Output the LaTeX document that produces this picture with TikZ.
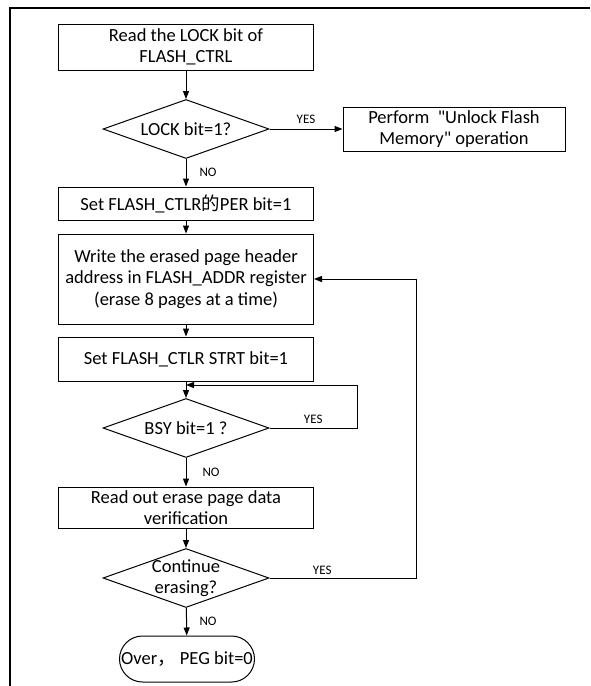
\documentclass[tikz,border=0pt]{standalone}
\usepackage{fontspec}
\setmainfont{Carlito}[Ligatures=TeXOff]
\newfontfamily\cjk{Noto Sans CJK SC}
\usetikzlibrary{shapes.geometric,arrows.meta}

\begin{document}
\begin{tikzpicture}[x=1pt,y=-1pt,
    font=\fontsize{18.5}{21.5}\selectfont,
    every node/.style={inner sep=0pt, align=center},
    proc/.style={draw, line width=1pt, minimum width=255pt},
    decision/.style={draw, diamond, aspect=2.8, line width=1pt, minimum width=166pt, minimum height=59pt},
    tag/.style={font=\fontsize{13}{15}\selectfont},
    arrow/.style={-{Triangle[length=8pt,width=6pt]}, line width=1pt}]
    \useasboundingbox (0,0) rectangle (590,686);

    % Frame
    \draw[line width=1.2pt] (10,686) -- (10,8) -- (590,8);

    % Steps
    \node[proc, minimum height=46pt] (read) at (186,47) {Read the LOCK bit of\\FLASH\_CTRL};
    \node[decision, label={center:LOCK bit=1?}] (lock) at (186,129) {};
    \node[proc, minimum width=222pt, minimum height=44pt] (unlock) at (454,129) {Perform~ "Unlock Flash\\Memory" operation};
    \node[proc, minimum height=33pt] (per) at (186,203.5) {Set FLASH\_CTLR{\cjk 的}PER bit=1};
    \node[proc, minimum height=90pt] (addr) at (186,279) {Write the erased page header\\address in FLASH\_ADDR register\\(erase 8 pages at a time)};
    \node[proc, minimum height=44pt] (strt) at (186,359) {Set FLASH\_CTLR STRT bit=1};
    \node[decision, label={center:BSY bit=1 ?}] (bsy) at (186,428) {};
    \node[proc, minimum height=41pt] (verify) at (186,507.5) {Read out erase page data\\verification};
    \node[decision, label={[align=center]center:Continue\\erasing?}] (cont) at (186,578) {};
    \node[draw, line width=1pt, rounded corners=23pt, minimum width=135pt, minimum height=46pt] (over) at (187,659) {Over{\cjk ，} PEG bit=0};

    \coordinate (bsyloop) at (357,385);
    \coordinate (bsyin) at (186,385);
    \coordinate (back) at (416,578);

    % Connectors
    \draw[arrow] (read) -- (lock);
    \draw[arrow] (lock) -- node[tag, above=5pt] {YES} (unlock);
    \draw[arrow] (lock) -- node[tag, right=13pt] {NO} (per);
    \draw[arrow] (per) -- (addr);
    \draw[arrow] (addr) -- (strt);
    \draw[arrow] (strt) -- (bsy);
    \draw[arrow] (bsy.east) -| node[tag, above=4pt, pos=0.25] {YES} (bsyloop) -- (bsyin);
    \draw[arrow] (bsy) -- node[tag, right=16pt] {NO} (verify);
    \draw[arrow] (verify) -- (cont);
    \draw[arrow] (cont.east) -- node[tag, above=3pt, pos=0.36] {YES} (back) |- (addr.east);
    \draw[arrow] (cont) -- node[tag, right=12.5pt] {NO} (over);
\end{tikzpicture}
\end{document}
